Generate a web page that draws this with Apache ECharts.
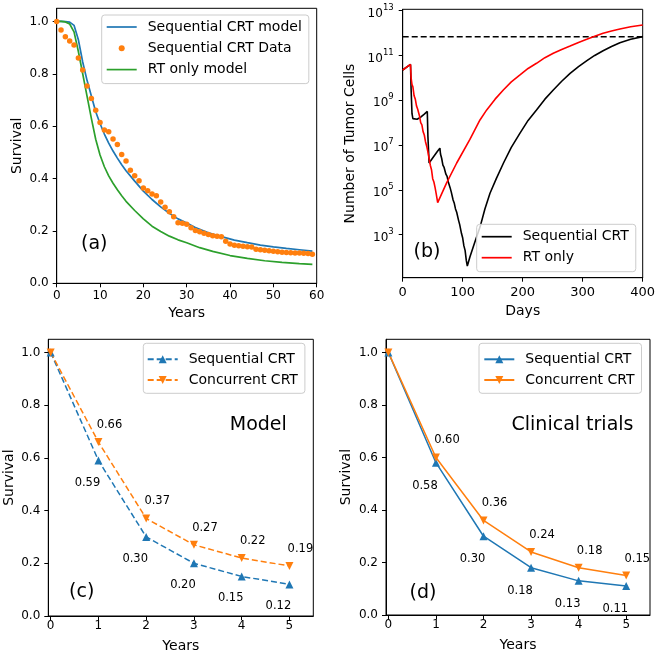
<!DOCTYPE html>
<html><head><meta charset="utf-8">
<script src="https://cdn.jsdelivr.net/npm/echarts@6/dist/echarts.min.js"></script>
<style>html,body{margin:0;padding:0;background:#fff}#c{width:660px;height:656px}</style>
</head><body><div id="c"></div><script>
// ---------- Panel (a): survival curves over 60 years ----------
const aModelYears = [0,1,2,3,4,5,6,7,8,9,10,11,12,13,14,15,16,18,20,22,24,26,28,30,32,35,38,41,44,47,50,53,56,59];
const aModelSurv  = [1.0,1.0,0.999,0.997,0.985,0.93,0.845,0.775,0.715,0.655,0.61,0.57,0.535,0.505,0.478,0.453,0.43,0.39,0.352,0.32,0.292,0.267,0.246,0.23,0.213,0.193,0.178,0.165,0.155,0.146,0.139,0.133,0.128,0.123];
const aDataYears = [0,1,2,3,4,5,6,7,8,9,10,11,12,13,14,15,16,17,18,19,20,21,22,23,24,25,26,27,28,29,30,31,32,33,34,35,36,37,38,39,40,41,42,43,44,45,46,47,48,49,50,51,52,53,54,55,56,57,58,59];
const aDataSurv  = [1.0,0.967,0.941,0.925,0.91,0.86,0.814,0.753,0.706,0.661,0.614,0.585,0.579,0.551,0.53,0.492,0.467,0.432,0.411,0.392,0.364,0.353,0.341,0.334,0.31,0.29,0.273,0.254,0.231,0.229,0.225,0.212,0.202,0.197,0.191,0.186,0.182,0.18,0.178,0.161,0.15,0.145,0.143,0.141,0.14,0.139,0.13,0.128,0.126,0.124,0.122,0.12,0.119,0.118,0.117,0.116,0.116,0.115,0.114,0.111];
const aRtYears = [0,1,2,3,4,5,6,7,8,9,10,11,12,13,14,15,16,18,20,22,24,26,28,30,33,36,40,44,48,52,56,59];
const aRtSurv  = [1.0,1.0,0.998,0.99,0.96,0.885,0.8,0.715,0.63,0.55,0.49,0.445,0.41,0.382,0.357,0.334,0.313,0.278,0.246,0.218,0.198,0.18,0.166,0.155,0.136,0.122,0.106,0.095,0.086,0.08,0.075,0.072];
const aYearTicks = [0,10,20,30,40,50,60];
const survTicks = [0,0.2,0.4,0.6,0.8,1.0];

// ---------- Panel (b): tumour cell count (log10 of number of cells) ----------
const bSeqDays = [0,13,14,15.5,17,20,24,30,36,41,42,44,46,52,58,62,63,65,67,69,72,74,76,79,81,84,86,88,90,93,95,98,100,102,104,106,107.7,112,120,129,137,145.5,156,168,181,195.5,209,223,237,251,265,279,293,307,320,334,348,362,380,400];
const bSeqLog10 = [10.35,10.6,9.5,8.4,8.18,8.1,8.15,8.25,8.38,8.5,7.4,6.2,6.25,6.5,6.72,6.86,6.6,6.4,6.1,6.0,5.7,5.6,5.35,5.1,4.9,4.55,4.4,4.15,4.0,3.65,3.45,3.05,2.85,2.5,2.3,1.85,1.6,2.0,2.65,3.35,4.15,4.85,5.5,6.2,6.9,7.53,8.1,8.57,9.05,9.46,9.85,10.2,10.5,10.77,11.0,11.21,11.4,11.57,11.72,11.84];
const bRtDays = [0,13,14,15.5,17,19,21,23,25,28,30,32,34,36,38,40,42,44,46,48,50,52,54,56,58.3,73,90,112,128.8,140,154,167.7,181,195.5,209,223,237,251,265,279,293,306.7,320,334,348,362,380,400];
const bRtLog10 = [10.35,10.6,10.0,9.7,9.6,9.2,9.05,8.75,8.6,8.3,8.0,7.9,7.6,7.45,7.15,6.95,6.7,6.4,6.1,5.9,5.5,5.35,5.1,4.8,4.43,5.3,6.2,7.25,8.12,8.57,9.05,9.46,9.82,10.13,10.42,10.65,10.9,11.1,11.27,11.42,11.58,11.72,11.86,11.99,12.09,12.18,12.28,12.36];
const bThresholdLog10 = 11.84;
const bThresholdDays = [0,400];
const bDayTicks = [0,100,200,300,400];
const bLogTicks = [3,5,7,9,11,13];

// ---------- Panels (c) model and (d) clinical trials ----------
const years = [0,1,2,3,4,5];
const cSeq = [1.0,0.59,0.30,0.20,0.15,0.12];
const cCon = [1.0,0.66,0.37,0.27,0.22,0.19];
const dSeq = [1.0,0.58,0.30,0.18,0.13,0.11];
const dCon = [1.0,0.60,0.36,0.24,0.18,0.15];
const yearTicks = [0,1,2,3,4,5];

const FONT = 'DejaVu Sans';
const BLUE = '#1f77b4', ORANGE = '#ff7f0e', GREEN = '#2ca02c';
const zip = (xs, ys) => xs.map((x, i) => [x, ys[i]]);
const LINE_ICON = 'path://M0,0L60,0L60,3.4L0,3.4Z';

const chart = echarts.init(document.getElementById('c'), null, {renderer: 'canvas', width: 660, height: 656});

const frame = {show: true, borderColor: '#000', borderWidth: 1, backgroundColor: 'transparent', containLabel: false, outerBoundsMode: 'none'};
const grid = [
  Object.assign({left: 56.7, top: 8.3, width: 260, height: 275}, frame),
  Object.assign({left: 402.7, top: 9.3, width: 240, height: 268.4}, frame),
  Object.assign({left: 48.3, top: 339.3, width: 265, height: 276.7}, frame),
  Object.assign({left: 386, top: 339.3, width: 264, height: 275.7}, frame)
];

function axis(o) {
  return {
    type: 'value', gridIndex: o.g, min: o.min, max: o.max,
    name: o.name, nameLocation: 'middle', nameGap: o.gap,
    nameTextStyle: {fontSize: 14, color: '#000', fontFamily: FONT},
    axisLine: {show: true, onZero: false, lineStyle: {color: '#000', width: 1}},
    axisTick: {show: true, length: 4, lineStyle: {color: '#000', width: 1}, customValues: o.ticks},
    axisLabel: Object.assign({customValues: o.ticks, color: '#000', fontSize: o.fs || 12, fontFamily: FONT, margin: o.margin, formatter: o.fmt}, o.label || {}),
    splitLine: {show: false}
  };
}
const f1 = v => v.toFixed(1);
const f0 = v => String(v);

const xAxis = [
  axis({g: 0, min: 0, max: 60, ticks: aYearTicks, name: 'Years', gap: 23, margin: 7, fmt: f0}),
  axis({g: 1, min: 0, max: 400, ticks: bDayTicks, name: 'Days', gap: 27, margin: 8, fs: 13, fmt: f0}),
  axis({g: 2, min: -0.05, max: 5.5, ticks: yearTicks, name: 'Years', gap: 23.5, margin: 4, fmt: f0}),
  axis({g: 3, min: -0.05, max: 5.5, ticks: yearTicks, name: 'Years', gap: 23, margin: 4, fmt: f0})
];
const yAxis = [
  axis({g: 0, min: 0, max: 1.05, ticks: survTicks, name: 'Survival', gap: 32, margin: 8, fmt: f1}),
  axis({g: 1, min: 1.08, max: 13.06, ticks: bLogTicks, name: 'Number of Tumor Cells', gap: 45, margin: 9,
        fmt: v => '{b|10}{s|' + v + '}',
        label: {rich: {b: {fontSize: 12, color: '#000', fontFamily: FONT, padding: [6, 0, 0, 0]},
                       s: {fontSize: 8.5, color: '#000', fontFamily: FONT, padding: [0, 0, 6, 0]}}}}),
  axis({g: 2, min: 0, max: 1.05, ticks: survTicks, name: 'Survival', gap: 32, margin: 8, fmt: f1}),
  axis({g: 3, min: 0, max: 1.05, ticks: survTicks, name: 'Survival', gap: 33, margin: 8, fmt: f1})
];

function lineS(name, ax, data, color, width, extra) {
  return Object.assign({type: 'line', name, xAxisIndex: ax, yAxisIndex: ax, data, symbol: 'none',
    color, lineStyle: {color, width}, itemStyle: {color}, z: 3, clip: true}, extra || {});
}
const valLabel = (off) => ({show: true, position: 'inside', offset: off, color: '#000', fontSize: 11.5, fontFamily: FONT,
  formatter: p => p.dataIndex === 0 ? '' : p.value[1].toFixed(2)});
function markerS(name, ax, data, color, rot, dashed, off) {
  return {type: 'line', name, xAxisIndex: ax, yAxisIndex: ax, data, color,
    symbol: 'triangle', symbolSize: 8, symbolRotate: rot, showSymbol: true,
    lineStyle: {color, width: 1.5, type: dashed ? [6, 3] : 'solid'},
    itemStyle: {color, borderWidth: 0}, label: valLabel(off), z: 3};
}

const series = [
  lineS('Sequential CRT model', 0, zip(aModelYears, aModelSurv), BLUE, 1.7),
  {type: 'scatter', name: 'Sequential CRT Data', xAxisIndex: 0, yAxisIndex: 0, data: zip(aDataYears, aDataSurv),
   symbol: 'circle', symbolSize: 5.5, itemStyle: {color: ORANGE, opacity: 1}, color: ORANGE, z: 4},
  lineS('RT only model', 0, zip(aRtYears, aRtSurv), GREEN, 1.7),
  lineS('threshold', 1, bThresholdDays.map(d => [d, bThresholdLog10]), '#000', 1.5, {lineStyle: {color: '#000', width: 1.5, type: [6, 3]}}),
  lineS('Sequential CRT#b', 1, zip(bSeqDays, bSeqLog10), '#000', 1.6),
  lineS('RT only#b', 1, zip(bRtDays, bRtLog10), '#ff0000', 1.6),
  markerS('Sequential CRT#c', 2, zip(years, cSeq), BLUE, 0, true, [-11, 22]),
  markerS('Concurrent CRT#c', 2, zip(years, cCon), ORANGE, 180, true, [11, -17]),
  markerS('Sequential CRT#d', 3, zip(years, dSeq), BLUE, 0, false, [-11, 23]),
  markerS('Concurrent CRT#d', 3, zip(years, dCon), ORANGE, 180, false, [11, -17])
];

function legend(o) {
  return {orient: 'vertical', left: o.left, top: o.top, padding: o.padding,
    itemWidth: 30, itemHeight: o.ih, itemGap: o.gap, selectedMode: false,
    data: o.data, formatter: n => n.split('#')[0],
    textStyle: {fontSize: 14, color: '#000', fontFamily: FONT, padding: [0, 0, 0, 6]},
    itemStyle: {borderWidth: 0, opacity: 1},
    borderColor: '#cccccc', borderWidth: 1, borderRadius: 3, backgroundColor: 'rgba(255,255,255,0.8)'};
}
const legendArr = [
  legend({left: 101.7, top: 15, padding: [5, 7, 7, 5], ih: 6, gap: 7.3,
    data: [{name: 'Sequential CRT model', icon: LINE_ICON}, {name: 'Sequential CRT Data', icon: 'circle'}, {name: 'RT only model', icon: LINE_ICON}]}),
  legend({left: 476.7, top: 224.3, padding: [5.4, 7, 7, 5], ih: 6, gap: 7,
    data: [{name: 'Sequential CRT#b', icon: LINE_ICON}, {name: 'RT only#b', icon: LINE_ICON}]}),
  legend({left: 143.3, top: 343.3, padding: [9, 7, 6.3, 3.4], ih: 10, gap: 6.7,
    data: [{name: 'Sequential CRT#c'}, {name: 'Concurrent CRT#c'}]}),
  legend({left: 479, top: 343.3, padding: [9, 7, 6.3, 4.3], ih: 10, gap: 6.7,
    data: [{name: 'Sequential CRT#d'}, {name: 'Concurrent CRT#d'}]})
];

const txt = (t, x, y, size) => ({type: 'text', x, y, z: 10,
  style: {text: t, font: size + 'px "DejaVu Sans"', fill: '#000', align: 'center', verticalAlign: 'middle'}});
const graphic = [
  txt('(a)', 94.3, 244.5, 19),
  txt('(b)', 427, 252, 19),
  txt('(c)', 81.7, 591.7, 19),
  txt('(d)', 423, 592.8, 19),
  txt('Model', 258.3, 425, 19),
  txt('Clinical trials', 572.5, 425, 19)
];

chart.setOption({
  animation: false,
  backgroundColor: '#fff',
  textStyle: {fontFamily: FONT},
  grid, xAxis, yAxis, series, legend: legendArr, graphic
});
</script></body></html>
